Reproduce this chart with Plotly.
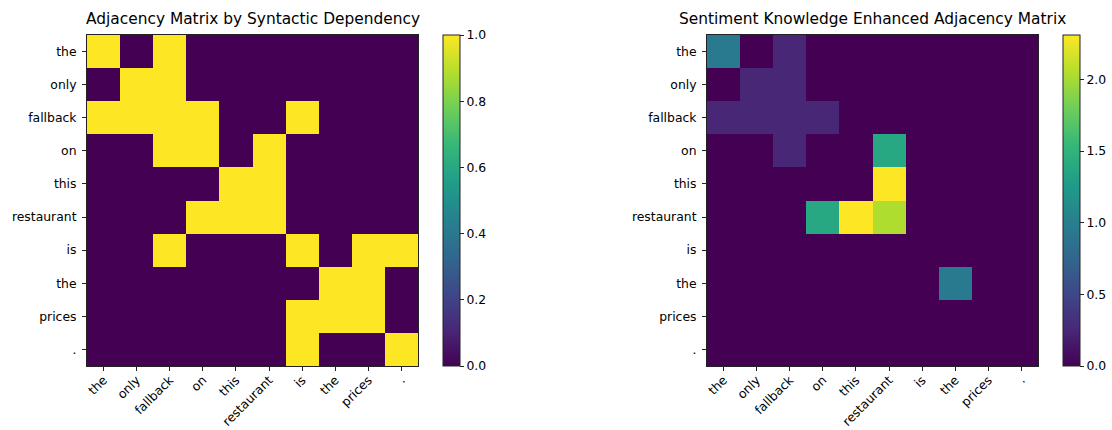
import plotly.graph_objects as go

# Tokens of the sentence (rows and columns of both matrices)
tokens = ["the", "only", "fallback", "on", "this", "restaurant", "is", "the", "prices", "."]

# Binary adjacency from the syntactic dependency tree
syntax_adj = [
    [1, 0, 1, 0, 0, 0, 0, 0, 0, 0],
    [0, 1, 1, 0, 0, 0, 0, 0, 0, 0],
    [1, 1, 1, 1, 0, 0, 1, 0, 0, 0],
    [0, 0, 1, 1, 0, 1, 0, 0, 0, 0],
    [0, 0, 0, 0, 1, 1, 0, 0, 0, 0],
    [0, 0, 0, 1, 1, 1, 0, 0, 0, 0],
    [0, 0, 1, 0, 0, 0, 1, 0, 1, 1],
    [0, 0, 0, 0, 0, 0, 0, 1, 1, 0],
    [0, 0, 0, 0, 0, 0, 1, 1, 1, 0],
    [0, 0, 0, 0, 0, 0, 1, 0, 0, 1],
]

# Adjacency weighted with sentiment knowledge
sentiment_adj = [
    [0.95, 0, 0.25, 0, 0, 0, 0, 0, 0, 0],
    [0, 0.25, 0.25, 0, 0, 0, 0, 0, 0, 0],
    [0.25, 0.25, 0.25, 0.25, 0, 0, 0, 0, 0, 0],
    [0, 0, 0.25, 0, 0, 1.39, 0, 0, 0, 0],
    [0, 0, 0, 0, 0, 2.31, 0, 0, 0, 0],
    [0, 0, 0, 1.39, 2.31, 2.03, 0, 0, 0, 0],
    [0, 0, 0, 0, 0, 0, 0, 0, 0, 0],
    [0, 0, 0, 0, 0, 0, 0, 0.95, 0, 0],
    [0, 0, 0, 0, 0, 0, 0, 0, 0, 0],
    [0, 0, 0, 0, 0, 0, 0, 0, 0, 0],
]

titles = ["Adjacency Matrix by Syntactic Dependency",
          "Sentiment Knowledge Enhanced Adjacency Matrix"]

W, H = 1112, 430
FONT = "DejaVu Sans"
TICK_SIZE = 12.4
TITLE_SIZE = 15.4
idx = list(range(len(tokens)))

# pixel boxes of the two axes: (left, right, top, bottom) and colorbar left
panels = [
    dict(box=(87, 418, 35, 366), cbx=443, z=syntax_adj, zmax=1.0, dtick=0.2),
    dict(box=(707, 1038, 35, 366), cbx=1063,
         z=sentiment_adj, zmax=max(max(r) for r in sentiment_adj), dtick=0.5),
]

fig = go.Figure()
layout = dict(
    width=W, height=H,
    margin=dict(l=0, r=0, t=0, b=0, autoexpand=False),
    paper_bgcolor="white", plot_bgcolor="white",
    font=dict(family=FONT, size=TICK_SIZE, color="black"),
    showlegend=False,
    annotations=[],
)

for i, p in enumerate(panels):
    l, r, t, b = p["box"]
    xa = "x" if i == 0 else f"x{i+1}"
    ya = "y" if i == 0 else f"y{i+1}"
    fig.add_trace(go.Heatmap(
        z=p["z"], x=idx, y=idx,
        xaxis=xa, yaxis=ya,
        colorscale="Viridis", zmin=0, zmax=p["zmax"],
        colorbar=dict(
            x=p["cbx"] / W, xanchor="left", xpad=0, ypad=0,
            y=1 - (t + b) / 2 / H, yanchor="middle",
            len=(b - t) / H, lenmode="fraction",
            thickness=17, thicknessmode="pixels",
            outlinewidth=1, outlinecolor="#222",
            ticks="outside", ticklen=4, tickwidth=1, tickcolor="#222",
            tick0=0, dtick=p["dtick"], tickformat=".1f",
            tickfont=dict(family=FONT, size=TICK_SIZE, color="black"),
        ),
        hoverongaps=False,
    ))
    axis_common = dict(
        showgrid=False, zeroline=False, automargin=False,
        showline=True, mirror=True, linecolor="#222", linewidth=1,
        ticks="outside", ticklen=4, tickwidth=1, tickcolor="#222",
        tickvals=idx, ticktext=tokens,
        tickfont=dict(family=FONT, size=TICK_SIZE, color="black"),
    )
    layout["xaxis" if i == 0 else f"xaxis{i+1}"] = dict(
        axis_common, domain=[l / W, r / W], range=[-0.5, 9.5],
        anchor=ya, tickangle=-45, ticklabelstandoff=-3,
    )
    layout["yaxis" if i == 0 else f"yaxis{i+1}"] = dict(
        axis_common, domain=[1 - b / H, 1 - t / H], range=[9.5, -0.5],
        anchor=xa, ticklabelstandoff=3,
    )
    layout["annotations"].append(dict(
        text=titles[i], xref="paper", yref="paper",
        x=(l + r) / 2 / W, y=1 - 30 / H, xanchor="center", yanchor="bottom",
        showarrow=False, font=dict(family=FONT, size=TITLE_SIZE, color="black"),
    ))

fig.update_layout(**layout)
fig.write_html("out.html")
